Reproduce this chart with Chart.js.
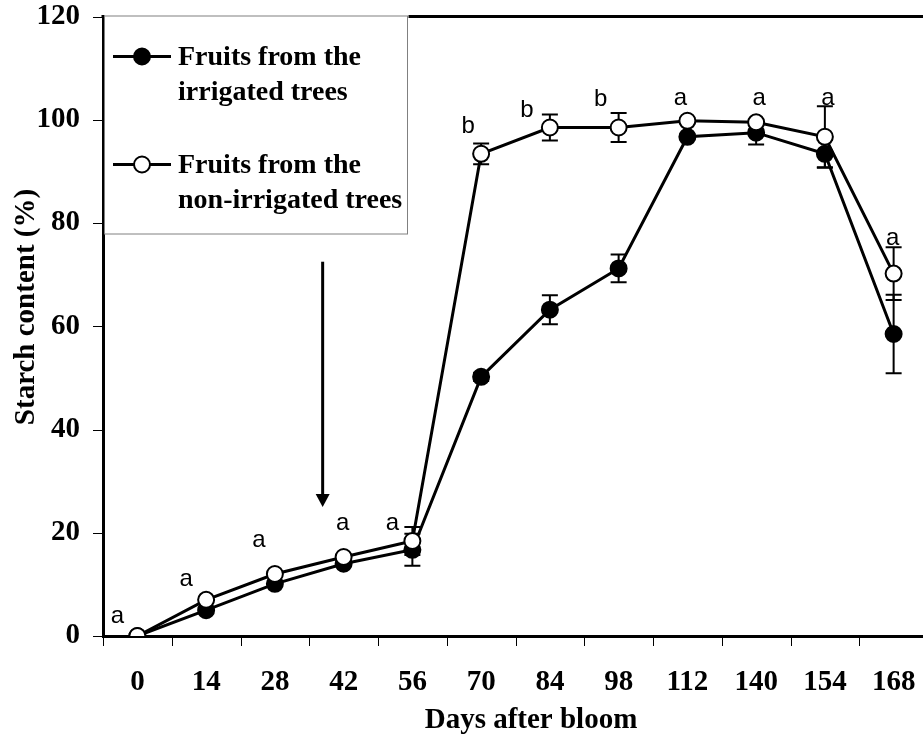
<!DOCTYPE html>
<html><head><meta charset="utf-8">
<script src="https://cdn.jsdelivr.net/npm/chart.js@4.4.0/dist/chart.umd.min.js"></script>
<style>
html,body{margin:0;padding:0;background:#fff;overflow:hidden;width:923px;height:738px}
#wrap{position:absolute;left:0;top:0;width:928px;height:738px}
</style>
</head><body><div id="wrap"><canvas id="c" width="928" height="738"></canvas></div>
<script>
// ---- data ----
const days = ['0','14','28','42','56','70','84','98','112','140','154','168'];
const irrigated = [0, 5.0, 10.1, 14.0, 16.7, 50.2, 63.2, 71.2, 96.7, 97.5, 93.4, 58.5];
const irrigatedErr = [0, 0, 0, 0, 3.1, 0.8, 2.8, 2.7, 0.5, 2.3, 2.7, 7.6];
const nonIrrigated = [0, 7.0, 12.0, 15.3, 18.4, 93.4, 98.5, 98.5, 99.8, 99.5, 96.7, 70.2];
const nonIrrigatedErr = [0, 0, 0, 0, 2.7, 2.0, 2.5, 2.8, 0.5, 0.5, 5.9, 5.1];
const letters = ['a','a','a','a','a','b','b','b','a','a','a','a'];
const letterY = [2.5, 9.7, 17.3, 20.6, 20.6, 97.5, 100.6, 102.6, 102.8, 102.8, 102.8, 75.8];
const yTicks = [0, 20, 40, 60, 80, 100, 120];
const arrowIndex = 2.695, arrowFrom = 72.5, arrowTo = 25.0;
const legendLabels = [['Fruits from the','irrigated trees'], ['Fruits from the','non-irrigated trees']];
const xTitle = 'Days after bloom';
const yTitle = 'Starch content (%)';

// ---- layout / style ----
const letterShift = [-20,-20,-16,-1,-20,-13,-23,-18,-7,3,3,-1];
const SERIF = '"Liberation Serif", "Times New Roman", serif';
const SANS = '"Liberation Sans", Arial, sans-serif';

const extras = {
  id: 'extras',
  beforeDatasetsDraw(chart) {
    const {ctx, scales: {x, y}} = chart;
    ctx.save();
    ctx.strokeStyle = '#000';
    ctx.lineWidth = 2;
    const sets = [[irrigated, irrigatedErr], [nonIrrigated, nonIrrigatedErr]];
    for (const [vals, errs] of sets) {
      vals.forEach((v, i) => {
        const e = errs[i];
        if (!e) return;
        const px = x.getPixelForValue(i);
        const yt = y.getPixelForValue(v + e), yb = y.getPixelForValue(v - e);
        ctx.beginPath();
        ctx.moveTo(px, yt); ctx.lineTo(px, yb);
        ctx.moveTo(px - 8, yt); ctx.lineTo(px + 8, yt);
        ctx.moveTo(px - 8, yb); ctx.lineTo(px + 8, yb);
        ctx.stroke();
      });
    }
    // arrow
    const ax = x.getPixelForValue(arrowIndex);
    const a1 = y.getPixelForValue(arrowFrom), a2 = y.getPixelForValue(arrowTo);
    ctx.lineWidth = 3;
    ctx.beginPath(); ctx.moveTo(ax, a1); ctx.lineTo(ax, a2 - 10); ctx.stroke();
    ctx.fillStyle = '#000';
    ctx.beginPath(); ctx.moveTo(ax - 7, a2 - 13); ctx.lineTo(ax + 7, a2 - 13); ctx.lineTo(ax, a2); ctx.closePath(); ctx.fill();
    ctx.restore();
  },
  afterDraw(chart) {
    const {ctx, chartArea: ca, scales: {x, y}} = chart;
    ctx.save();
    // tick marks
    ctx.strokeStyle = '#000';
    ctx.lineWidth = 1;
    ctx.beginPath();
    yTicks.forEach(v => {
      const py = Math.round(y.getPixelForValue(v)) + 0.5;
      ctx.moveTo(ca.left - 10, py); ctx.lineTo(ca.left, py);
    });
    for (let i = 0; i <= days.length; i++) {
      const px = Math.round(x.getPixelForValue(i - 0.5)) + 0.5;
      ctx.moveTo(px, ca.bottom); ctx.lineTo(px, ca.bottom + 10);
    }
    ctx.stroke();
    // top border
    ctx.lineWidth = 3;
    ctx.beginPath(); ctx.moveTo(ca.left - 1.5, ca.top); ctx.lineTo(ca.right + 10, ca.top); ctx.stroke();
    // axis titles
    ctx.fillStyle = '#000';
    ctx.font = 'bold 29px ' + SERIF;
    ctx.textAlign = 'center';
    ctx.textBaseline = 'alphabetic';
    ctx.fillText(xTitle, 531, 728);
    ctx.save();
    ctx.translate(27, 307);
    ctx.rotate(-Math.PI / 2);
    ctx.textBaseline = 'middle';
    ctx.fillText(yTitle, 0, 0);
    ctx.restore();
    // letters
    ctx.font = '24px ' + SANS;
    ctx.textAlign = 'center';
    ctx.textBaseline = 'alphabetic';
    letters.forEach((t, i) => {
      ctx.fillText(t, x.getPixelForValue(i) + letterShift[i], y.getPixelForValue(letterY[i]));
    });
    // legend box
    ctx.fillStyle = '#fff';
    ctx.fillRect(ca.left + 1.5, ca.top - 2.5, 304, 220);
    ctx.strokeStyle = '#808080';
    ctx.lineWidth = 1;
    ctx.strokeRect(ca.left + 1.5, ca.top - 0.5, 303, 218);
    const items = [{fill: '#000', y: ca.top + 40}, {fill: '#fff', y: ca.top + 148}];
    items.forEach((it, k) => {
      ctx.strokeStyle = '#000';
      ctx.lineWidth = 3;
      ctx.beginPath(); ctx.moveTo(ca.left + 10, it.y); ctx.lineTo(ca.left + 68, it.y); ctx.stroke();
      ctx.lineWidth = 2;
      ctx.fillStyle = it.fill;
      ctx.beginPath(); ctx.arc(ca.left + 39, it.y, 8, 0, Math.PI * 2); ctx.fill(); ctx.stroke();
      ctx.fillStyle = '#000';
      ctx.font = 'bold 28px ' + SERIF;
      ctx.textAlign = 'left';
      ctx.textBaseline = 'alphabetic';
      ctx.fillText(legendLabels[k][0], ca.left + 75, it.y + 8);
      ctx.fillText(legendLabels[k][1], ca.left + 75, it.y + 43);
    });
    ctx.restore();
  }
};

new Chart(document.getElementById('c'), {
  type: 'line',
  data: {
    labels: days,
    datasets: [
      {label: 'Fruits from the non-irrigated trees', data: nonIrrigated, order: 0,
       borderColor: '#000', borderWidth: 3, pointRadius: 8, pointBorderWidth: 2,
       pointBackgroundColor: '#fff', pointBorderColor: '#000', tension: 0},
      {label: 'Fruits from the irrigated trees', data: irrigated, order: 1,
       borderColor: '#000', borderWidth: 3, pointRadius: 8, pointBorderWidth: 2,
       pointBackgroundColor: '#000', pointBorderColor: '#000', tension: 0}
    ]
  },
  options: {
    responsive: false,
    animation: false,
    devicePixelRatio: 1,
    events: [],
    layout: {autoPadding: false, padding: {top: 0, left: 0, right: 0, bottom: 0}},
    plugins: {legend: {display: false}, tooltip: {enabled: false}},
    scales: {
      x: {
        type: 'category',
        offset: true,
        grid: {display: true, offset: true, drawOnChartArea: false, drawTicks: true, tickLength: 29, tickColor: 'rgba(0,0,0,0)'},
        border: {display: true, color: '#000', width: 3},
        ticks: {color: '#000', padding: 0, maxRotation: 0, autoSkip: false, font: {family: SERIF, size: 29, weight: 'bold'}},
        afterFit(s) { s.height = 102; }
      },
      y: {
        min: 0, max: 120,
        afterBuildTicks(s) { s.ticks = yTicks.map(v => ({value: v})); },
        grid: {display: true, drawOnChartArea: false, drawTicks: true, tickLength: 21, tickColor: 'rgba(0,0,0,0)'},
        border: {display: true, color: '#000', width: 3},
        ticks: {color: '#000', padding: 2, font: {family: SERIF, size: 29, weight: 'bold', lineHeight: 1}},
        afterFit(s) { s.width = 103; }
      }
    }
  },
  plugins: [extras]
});
</script>
</body></html>
